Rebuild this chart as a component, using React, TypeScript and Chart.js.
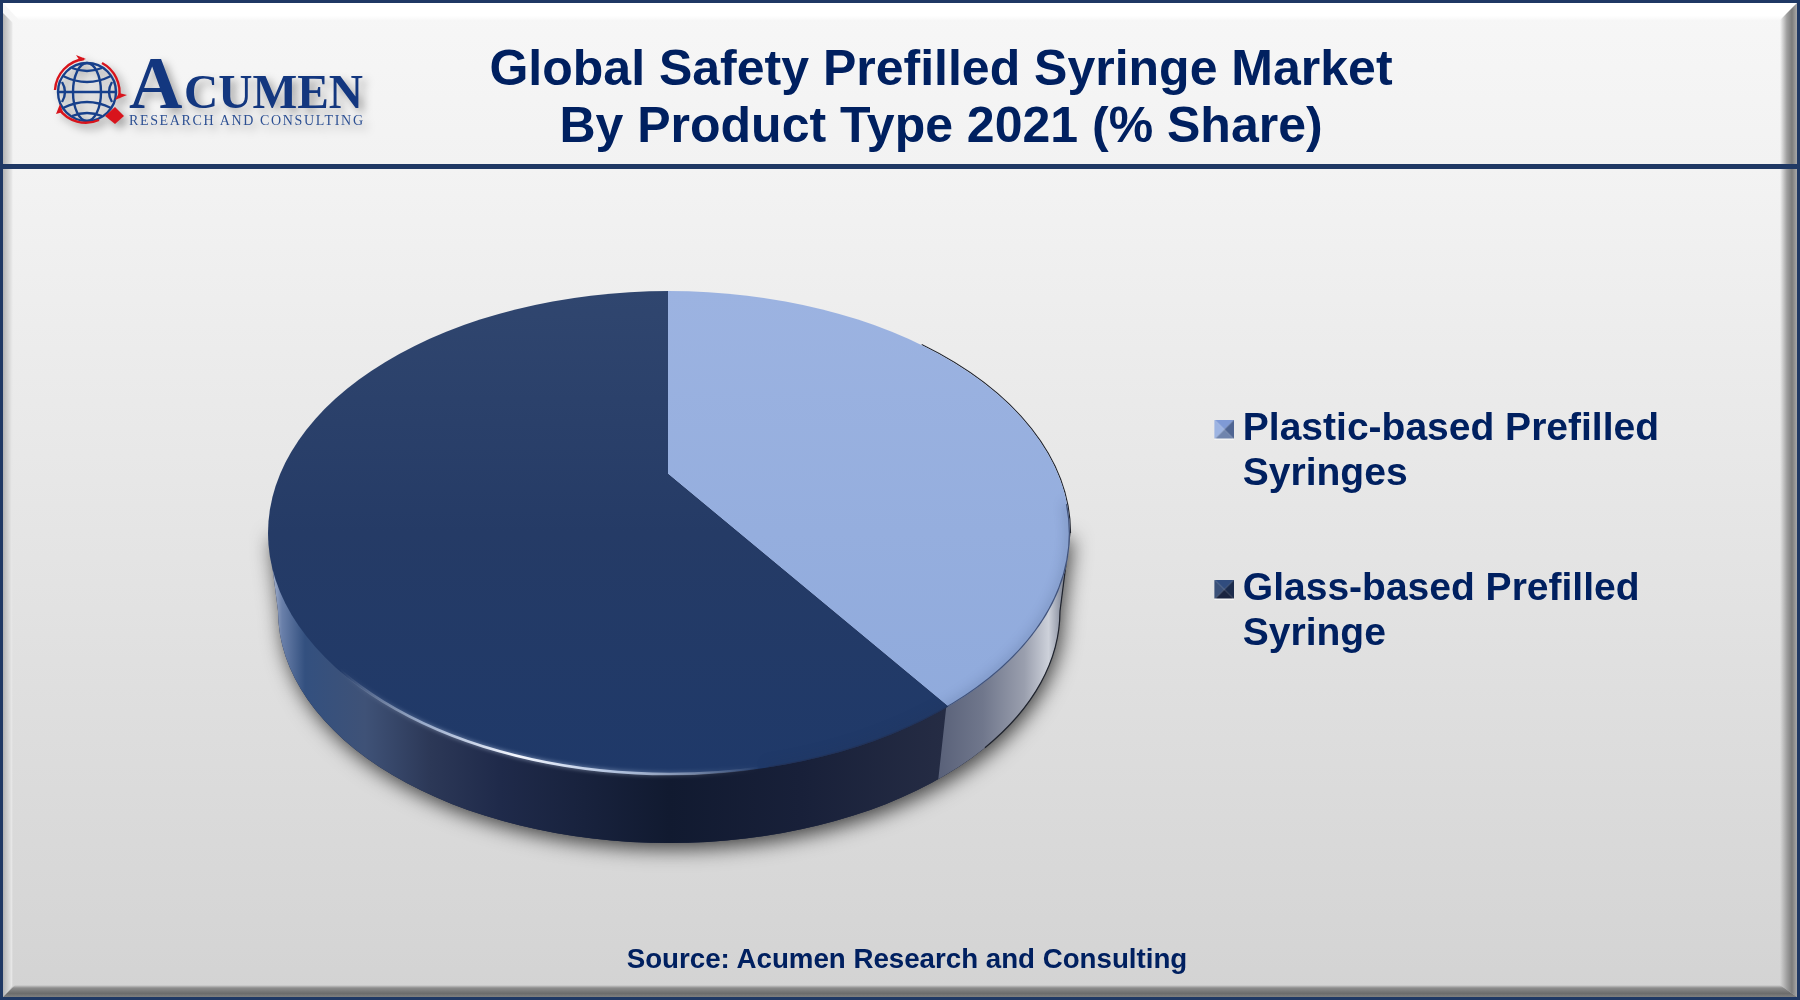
import React, { useEffect, useRef } from "react";
import { Chart, registerables } from "chart.js";

Chart.register(...registerables);

const categories: string[][] = [
  ["Plastic-based Prefilled", "Syringes"],
  ["Glass-based Prefilled", "Syringe"],
];
const shareValues: number[] = [40, 60];
const titleLines: string[] = ["Global Safety Prefilled Syringe Market", "By Product Type 2021 (% Share)"];
const sourceText = "Source: Acumen Research and Consulting";

const NAVY = "#002060";
const FONT = '"Liberation Sans", Arial, sans-serif';
const CANVAS_LEFT = 82;
const CANVAS_W = 1718;
const K = 0.603;
const EX = 669 - CANVAS_LEFT;
const EY = 533;
const RX = 401;
const RY = 242;
const APEX_X = 668 - CANVAS_LEFT;
const APEX_Y = 474;
const BX = EX;
const BY = 611;
const BRX = 391;
const BRY = 232;

function stops(g: CanvasGradient, list: [number, string][]) {
  list.forEach(([o, c]) => g.addColorStop(o, c));
  return g;
}

function faceGradient(chart: any, top: string, mid: string, bottom: string) {
  const a = chart.chartArea;
  if (!a) return bottom;
  const cy = (a.top + a.bottom) / 2;
  const toChart = (ys: number) => cy + (ys - APEX_Y) / K;
  const g = chart.ctx.createLinearGradient(0, toChart(290), 0, toChart(775));
  return stops(g, [[0, top], [0.5, mid], [1, bottom]]);
}

function pyramid(top: string, left: string, right: string, bottom: string) {
  const c = document.createElement("canvas");
  c.width = 24;
  c.height = 20;
  const x = c.getContext("2d")!;
  x.translate(4, 0);
  const tri = (col: string, p: number[]) => {
    x.fillStyle = col;
    x.beginPath();
    x.moveTo(p[0], p[1]);
    x.lineTo(p[2], p[3]);
    x.lineTo(10, 10);
    x.closePath();
    x.fill();
  };
  tri(top, [0, 0, 20, 0]);
  tri(left, [0, 0, 0, 20]);
  tri(right, [20, 0, 20, 20]);
  tri(bottom, [0, 20, 20, 20]);
  x.fillStyle = "#f4f4f4";
  x.fillRect(0, 19, 20, 1);
  return c;
}

const pie3d = {
  id: "pie3d",
  beforeDatasetsDraw(chart: any) {
    const ctx: CanvasRenderingContext2D = chart.ctx;
    const side = new Path2D();
    side.ellipse(BX, BY, BRX, BRY, 0, 0, Math.PI * 2);
    side.moveTo(EX - RX, EY);
    side.lineTo(EX + RX, EY);
    side.lineTo(BX + BRX, BY);
    side.lineTo(BX - BRX, BY);
    side.closePath();

    ctx.save();
    ctx.shadowColor = "rgba(0,0,0,0.7)";
    ctx.shadowBlur = 20;
    ctx.shadowOffsetX = 3;
    ctx.shadowOffsetY = 6;
    ctx.fillStyle = "#1a2440";
    ctx.fill(side);
    ctx.restore();

    const x = (px: number) => (px - CANVAS_LEFT - (EX - RX)) / (2 * RX);
    const dark = stops(ctx.createLinearGradient(EX - RX, 0, EX + RX, 0), [
      [x(268), "#c4cde0"],
      [x(282), "#6a80aa"],
      [x(305), "#33507f"],
      [x(365), "#3f5277"],
      [x(430), "#2c3857"],
      [x(500), "#1f2a4a"],
      [x(669), "#111a30"],
      [x(800), "#182039"],
      [x(945), "#252c44"],
    ]);
    ctx.fillStyle = dark;
    ctx.fill(side);

    ctx.save();
    ctx.beginPath();
    ctx.moveTo(947 - CANVAS_LEFT, 700);
    ctx.lineTo(936 - CANVAS_LEFT, 800);
    ctx.lineTo(1120 - CANVAS_LEFT, 800);
    ctx.lineTo(1120 - CANVAS_LEFT, 500);
    ctx.lineTo(947 - CANVAS_LEFT, 500);
    ctx.closePath();
    ctx.clip();
    const light = stops(ctx.createLinearGradient(936 - CANVAS_LEFT, 0, 1070 - CANVAS_LEFT, 0), [
      [0, "#586078"],
      [0.35, "#70778c"],
      [0.66, "#9a9fae"],
      [0.84, "#cdd1da"],
      [0.93, "#8f95a4"],
      [1, "#777"],
    ]);
    ctx.fillStyle = light;
    ctx.fill(side);
    ctx.restore();

    // thin dark outline on the right rim
    ctx.save();
    ctx.strokeStyle = "#20242e";
    ctx.lineWidth = 1.2;
    ctx.beginPath();
    ctx.ellipse(EX, EY, RX + 0.5, RY + 0.5, 0, -0.89, 0);
    ctx.stroke();
    ctx.beginPath();
    ctx.moveTo(EX + RX, EY);
    ctx.lineTo(BX + BRX, BY);
    ctx.ellipse(BX, BY, BRX, BRY, 0, 0, 0.63);
    ctx.stroke();
    ctx.restore();

    const meta = chart.getDatasetMeta(0);
    const arc = meta.data[0];
    ctx.save();
    ctx.beginPath();
    ctx.ellipse(EX, EY, RX, RY, 0, 0, Math.PI * 2);
    ctx.clip();
    ctx.translate(APEX_X, APEX_Y);
    ctx.scale(1, K);
    ctx.translate(-arc.x, -arc.y);
  },
  afterDatasetsDraw(chart: any) {
    const ctx: CanvasRenderingContext2D = chart.ctx;
    ctx.restore();

    // soft rounded rim on the top face
    ctx.save();
    ctx.beginPath();
    ctx.ellipse(EX, EY, RX, RY, 0, 0, Math.PI * 2);
    ctx.clip();
    ctx.strokeStyle = "rgba(35,50,85,0.7)";
    ctx.shadowColor = "rgba(35,50,85,0.9)";
    ctx.shadowBlur = 12;
    ctx.lineWidth = 2.5;
    ctx.beginPath();
    ctx.ellipse(EX, EY, RX, RY, 0, -0.12, Math.PI * 0.42);
    ctx.stroke();
    ctx.restore();

    ctx.save();
    const hl = stops(ctx.createLinearGradient(340 - CANVAS_LEFT, 0, 760 - CANVAS_LEFT, 0), [
      [0, "rgba(255,255,255,0)"],
      [0.2, "rgba(200,215,240,0.65)"],
      [0.42, "rgba(245,248,255,1)"],
      [0.65, "rgba(205,220,245,0.8)"],
      [1, "rgba(255,255,255,0)"],
    ]);
    ctx.strokeStyle = hl;
    ctx.shadowColor = "rgba(210,225,250,0.7)";
    ctx.shadowBlur = 4;
    ctx.lineWidth = 2.6;
    ctx.beginPath();
    ctx.ellipse(EX, EY, RX - 1, RY - 1, 0, Math.PI * 0.42, Math.PI * 0.86);
    ctx.stroke();
    ctx.restore();
  },
};

const abs = (left: number, top: number, width: number, height: number, background: string, extra: React.CSSProperties = {}): React.CSSProperties => ({
  position: "absolute",
  left,
  top,
  width,
  height,
  background,
  ...extra,
});

function Logo() {
  return (
    <svg width={420} height={170} style={{ position: "absolute", left: 0, top: 0, filter: "drop-shadow(5px 5px 4px rgba(0,0,0,0.32))" }}>
      <g fill="none" stroke="#17408b" strokeWidth={2.4}>
        <circle cx={87} cy={92} r={29} />
        <ellipse cx={87} cy={92} rx={14} ry={29} />
        <line x1={58} y1={92} x2={116} y2={92} />
        <path d="M63 76 Q87 88 111 76" />
        <path d="M63 108 Q87 96 111 108" />
        <path d="M72 68 Q87 74 102 68" />
        <path d="M72 116 Q87 110 102 116" />
        <path d="M62 82 Q68 92 62 102" />
        <path d="M112 82 Q106 92 112 102" />
      </g>
      <g fill="none" stroke="#d8141c" strokeWidth={2.4}>
        <path d="M55 90 A33 33 0 0 1 84 59" />
        <path d="M102 63 A33 33 0 0 1 119 98" />
        <path d="M99 120 A33 33 0 0 1 59 109" />
      </g>
      <g fill="#d8141c">
        <polygon points="76,55 86,59 80,61" />
        <polygon points="115,100 127,95 119,93" />
        <polygon points="56,114 60,104 63,112" />
        <polygon points="115,107 124,116 115,124 105,116" />
      </g>
      <text x={129} y={108} fontFamily='"Liberation Serif", serif' fontWeight="bold" fill="#13377f" fontSize={74}>A</text>
      <text x={184} y={108} fontFamily='"Liberation Serif", serif' fontWeight="bold" fill="#13377f" fontSize={48} textLength={179} lengthAdjust="spacingAndGlyphs">CUMEN</text>
      <text x={129} y={125} fontFamily='"Liberation Serif", serif' fill="#2c4f92" fontSize={14} textLength={234} lengthAdjust="spacing">RESEARCH AND CONSULTING</text>
    </svg>
  );
}

export default function App() {
  const ref = useRef<HTMLCanvasElement>(null);

  useEffect(() => {
    const boxes = [
      pyramid("#7f9ad6", "#9db4e2", "#4f6592", "#6f84ad"),
      pyramid("#304c7e", "#3a5078", "#1b2b4c", "#1a2440"),
    ];
    const chart = new Chart(ref.current!, {
      type: "pie",
      data: {
        labels: categories as any,
        datasets: [
          {
            data: shareValues,
            borderWidth: 0,
            radius: 530,
            clip: false,
            backgroundColor: (c: any) =>
              c.dataIndex === 0
                ? faceGradient(c.chart, "#9cb3e1", "#95aede", "#8ea9db")
                : faceGradient(c.chart, "#30466f", "#253b66", "#1f3969"),
          } as any,
        ],
      },
      options: {
        responsive: false,
        animation: false,
        rotation: 0,
        layout: { padding: { left: 131, right: 131, top: 0, bottom: 87 } },
        plugins: {
          tooltip: { enabled: false },
          title: {
            display: true,
            text: titleLines,
            color: NAVY,
            font: { family: FONT, size: 50, weight: "bold", lineHeight: 57 / 50 },
            padding: { top: 43, bottom: 0 },
          },
          legend: {
            display: true,
            position: "right",
            fullSize: false,
            labels: {
              color: NAVY,
              font: { family: FONT, size: 39, weight: "bold", lineHeight: 45 / 39 },
              usePointStyle: true,
              boxWidth: 2,
              boxHeight: 20,
              padding: 70,
              generateLabels(c: any) {
                const items = (Chart as any).overrides.doughnut.plugins.legend.labels.generateLabels(c);
                return items.map((it: any, i: number) => ({ ...it, pointStyle: boxes[i], fillStyle: "#000", lineWidth: 0 }));
              },
            },
          },
        },
      },
      plugins: [pie3d as any],
    });
    return () => chart.destroy();
  }, []);

  return (
    <div style={{ position: "fixed", left: 0, top: 0, width: 1800, height: 1000, overflow: "hidden", background: "#1f3864" }}>
      <div style={abs(3, 3, 1794, 161, "linear-gradient(180deg,#f7f7f7,#f2f2f2)")} />
      <div style={abs(3, 169, 1794, 828, "linear-gradient(180deg,#f3f3f3,#d3d3d3)")} />
      <div style={abs(3, 3, 1794, 18, "linear-gradient(180deg,#ffffff 70%,#f6f6f6)", { clipPath: "polygon(0 0,100% 0,calc(100% - 17px) 100%,17px 100%)" })} />
      <div style={abs(3, 3, 10, 994, "linear-gradient(90deg,#b4b4b4,#e6e6e6 85%,transparent)", { clipPath: "polygon(0 10px,100% 20px,100% calc(100% - 12px),0 100%)" })} />
      <div style={abs(1780, 3, 17, 994, "linear-gradient(90deg,transparent,#a0a0a0 40%,#7c7c7c 70%,#a8a8a8)", { clipPath: "polygon(0 17px,100% 0,100% 100%,0 calc(100% - 12px))" })} />
      <div style={abs(3, 985, 1794, 12, "linear-gradient(180deg,transparent,#8c8c8c 25%,#6c6c6c 70%,#808080)", { clipPath: "polygon(12px 0,calc(100% - 17px) 0,100% 100%,0 100%)" })} />
      <div style={abs(0, 164, 1800, 5, "#1f3864")} />
      <Logo />
      <canvas ref={ref} width={CANVAS_W} height={1000} style={{ position: "absolute", left: CANVAS_LEFT, top: 0, display: "block" }} />
      <div style={{ position: "absolute", left: 507, width: 800, top: 942, textAlign: "center", fontFamily: FONT, fontWeight: "bold", fontSize: 27.7, lineHeight: "34px", color: NAVY }}>
        {sourceText}
      </div>
    </div>
  );
}
